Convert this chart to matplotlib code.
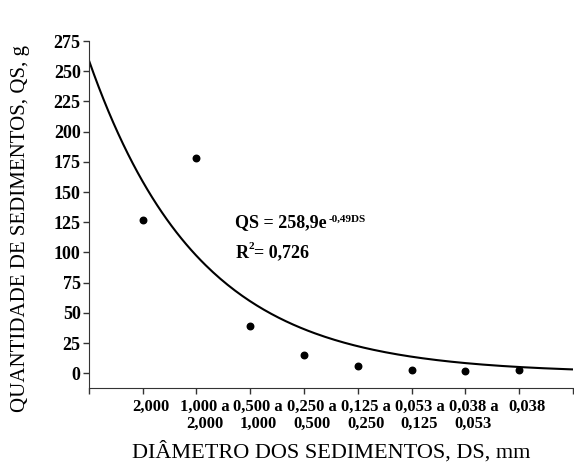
import numpy as np
import matplotlib
matplotlib.use('Agg')
import matplotlib.pyplot as plt
import matplotlib.transforms as mtransforms

plt.rcParams['font.family'] = ['Liberation Serif', 'DejaVu Serif']

# Data
classes = ['2,000', '1,000 a\n2,000', '0,500 a\n1,000', '0,250 a\n0,500',
           '0,125 a\n0,250', '0,053 a\n0,125', '0,038 a\n0,053', '0,038']
positions = [1, 2, 3, 4, 5, 6, 7, 8]
qs_values = [127, 178, 39, 15, 6, 3, 2, 3]

# fitted model QS = a * exp(b * DS)
coef_a = 258.9
coef_b = -0.49

fig = plt.figure(figsize=(5.74, 4.66), dpi=100)
ax = fig.add_axes([0.155, 0.168, 0.843, 0.744])

ds = np.linspace(0, 9, 200)
ax.plot(ds, coef_a * np.exp(coef_b * ds), color='black', linewidth=1.5)
ax.scatter(positions, qs_values, color='black', s=22, zorder=3)

ax.set_xlim(0, 9)
ax.set_ylim(-12, 275)
ax.set_yticks(np.arange(0, 276, 25))
ax.set_xticks(np.arange(0, 10))
ax.set_xticklabels([''] + classes + [''])

ax.spines['top'].set_visible(False)
ax.spines['right'].set_visible(False)
for sp in ax.spines.values():
    sp.set_color('#333333')
ax.tick_params(axis='both', direction='out', length=4, width=1, color='#333333')
ax.tick_params(axis='x', pad=4)
ax.tick_params(axis='y', pad=2)

# x tick labels sit a little right of their ticks
shift = mtransforms.ScaledTranslation(8 / 100, 0, fig.dpi_scale_trans)
for lbl in ax.get_xticklabels():
    lbl.set_fontweight('bold')
    lbl.set_fontsize(12)
    lbl.set_linespacing(1.05)
    lbl.set_verticalalignment('top')
    lbl.set_transform(lbl.get_transform() + shift)
for lbl in ax.get_yticklabels():
    lbl.set_fontweight('bold')
    lbl.set_fontsize(13)

ax.set_ylabel('QUANTIDADE DE SEDIMENTOS, QS, g', fontsize=15)
ax.yaxis.label.set_va('center')
ax.yaxis.set_label_coords(-0.142, 0.46)
ax.set_xlabel('DIÂMETRO DOS SEDIMENTOS, DS, mm', fontsize=16)
ax.xaxis.label.set_va('center')
ax.xaxis.set_label_coords(0.5, -0.186)

eq = ax.text(2.72, 124.5, 'QS = 258,9e', fontsize=13, fontweight='bold',
             ha='left', va='center')
ax.annotate('-0,49DS', xy=(1.0, 0.95), xycoords=eq, xytext=(1, 0),
            textcoords='offset points', fontsize=8, fontweight='bold',
            ha='left', va='top')
r2 = ax.text(2.72, 99.5, 'R', fontsize=13, fontweight='bold', ha='left', va='center')
ax.annotate('2', xy=(1.0, 0.6), xycoords=r2, fontsize=8, fontweight='bold',
            ha='left', va='bottom')
ax.annotate('= 0,726', xy=(1.0, 0.5), xycoords=r2, xytext=(4, 0),
            textcoords='offset points', fontsize=13, fontweight='bold',
            ha='left', va='center')

plt.savefig('out.png', dpi=100)
